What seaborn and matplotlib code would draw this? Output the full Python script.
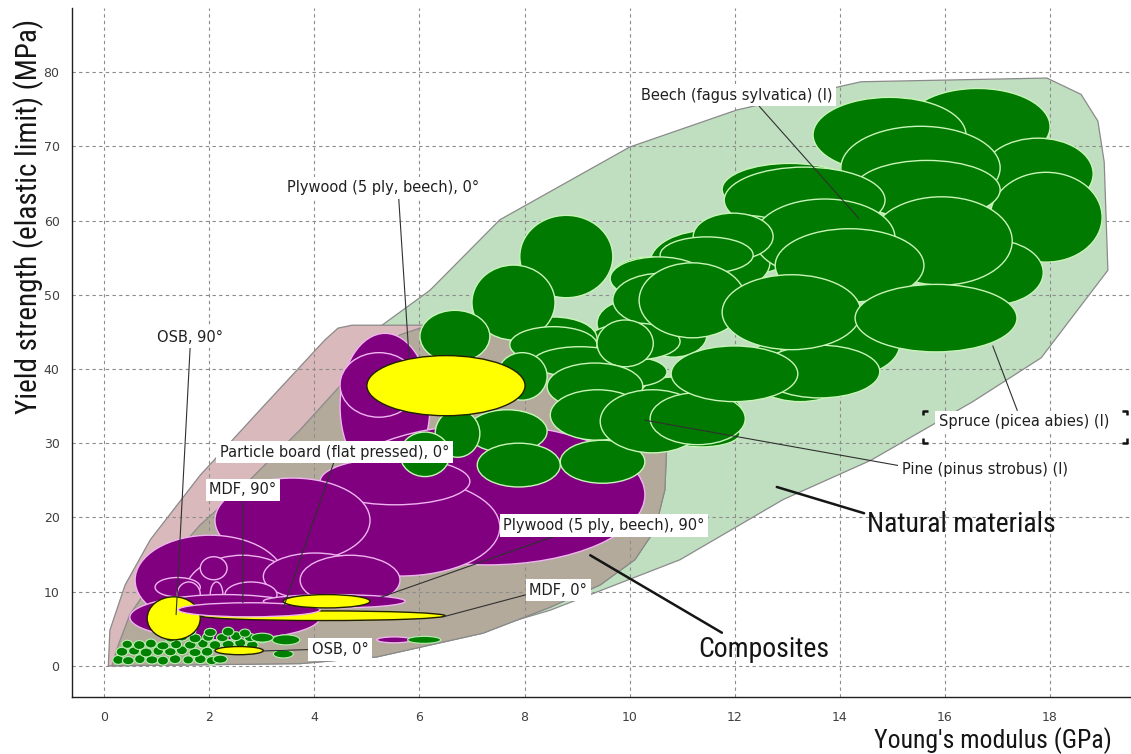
import matplotlib
matplotlib.use("Agg")
import matplotlib.pyplot as plt
import seaborn as sns
import pandas as pd
from matplotlib.patches import Ellipse, Polygon
from matplotlib.ticker import MultipleLocator
from matplotlib import font_manager as fm

# ---------------------------------------------------------------
# Property envelopes (Young's modulus E in GPa, yield strength in MPa)
# ---------------------------------------------------------------
natural_env_E = [0.08, 0.88, 2.78, 5.25, 6.20, 7.53, 10.0, 12.04, 14.4, 17.94, 18.59,
                 18.91, 19.03, 19.10, 17.83, 16.53, 14.59, 12.92, 10.96, 8.49, 6.58, 4.68]
natural_env_S = [0.0, 8.9, 26.4, 45.7, 50.6, 60.1, 69.9, 74.9, 78.7, 79.2, 77.0,
                 73.4, 67.9, 53.3, 41.5, 35.6, 27.7, 22.4, 14.3, 7.5, 3.5, 1.1]

composite_outer_E = [0.08, 0.11, 0.40, 0.88, 1.83, 2.97, 4.20, 4.45, 4.72, 6.01, 7.91, 9.63,
                     10.48, 10.71, 10.67, 10.48, 10.10, 9.44, 8.49, 7.21, 5.19, 3.73]
composite_outer_S = [0.0, 4.8, 10.9, 17.0, 25.7, 34.5, 43.9, 45.5, 45.9, 45.9, 45.5, 43.2,
                     37.2, 30.4, 23.7, 18.3, 14.3, 10.9, 7.9, 4.4, 1.2, 0.3]

composite_inner_E = [0.15, 0.27, 0.49, 1.07, 1.83, 2.68, 3.73, 4.68, 5.63, 6.01, 7.91, 9.63,
                     10.48, 10.71, 10.67, 10.48, 10.10, 9.44, 8.49, 7.21, 5.19, 3.73]
composite_inner_S = [0.0, 2.8, 6.9, 12.9, 19.0, 24.4, 31.8, 39.2, 44.6, 45.5, 45.3, 43.2,
                     37.2, 30.4, 23.7, 18.3, 14.3, 10.9, 7.9, 4.4, 1.2, 0.3]

# ---------------------------------------------------------------
# Timber grades (property ranges), back to front
# ---------------------------------------------------------------
wood_E_lo = [15.24, 13.49, 16.72, 16.86, 14.02, 14.27, 15.91, 14.59, 11.76, 11.80, 11.15,
             10.39, 12.37, 12.77,
             11.21, 10.58, 9.63, 9.38, 12.99, 13.81, 10.16, 11.15, 10.64, 10.20, 9.38, 7.91,
             9.63, 9.68, 9.19, 7.72, 7.91, 7.00, 6.01,
             7.72, 8.16, 9.38, 7.48, 8.43, 8.49, 6.91, 6.30, 5.63, 7.10,
             8.68, 10.18, 9.44, 10.39, 12.20, 12.86, 12.48, 10.79, 11.76, 14.29]
wood_E_hi = [18.00, 16.40, 18.82, 18.99, 17.05, 17.05, 17.87, 17.28, 14.33, 14.86, 13.24,
             12.67, 15.05, 15.60,
             12.73, 12.35, 11.09, 10.71, 14.33, 14.71, 11.40, 12.16, 12.10, 11.47, 10.71, 9.38,
             11.47, 11.53, 10.96, 9.38, 9.68, 8.58, 7.34,
             9.38, 9.95, 10.45, 8.43, 10.25, 10.29, 8.43, 7.15, 6.58, 8.68,
             10.29, 12.21, 11.43, 12.20, 14.29, 15.14, 14.76, 13.20, 14.40, 17.37]
wood_S_lo = [67.5, 66.5, 61.5, 54.4, 61.5, 60.2, 48.6, 51.3, 60.7, 58.3, 52.7,
             50.0, 52.4, 49.0,
             54.7, 52.9, 49.3, 43.0, 36.2, 39.5, 32.7, 30.4, 29.5, 41.6, 37.6, 41.2,
             49.3, 45.7, 41.2, 41.2, 49.6, 43.9, 40.9,
             40.8, 38.9, 40.3, 35.8, 34.5, 30.4, 28.7, 28.1, 25.5, 24.1,
             24.6, 44.2, 28.7, 29.8, 35.6, 38.8, 36.1, 35.6, 42.6, 42.3]
wood_S_hi = [77.8, 76.6, 71.1, 66.5, 72.7, 68.1, 57.4, 63.2, 67.7, 67.2, 60.7,
             58.7, 62.9, 58.9,
             61.0, 57.8, 55.1, 49.3, 43.9, 45.7, 38.9, 36.8, 33.1, 47.5, 41.6, 46.9,
             55.1, 52.9, 46.2, 47.0, 60.7, 54.0, 47.9,
             45.7, 43.0, 46.6, 42.2, 40.8, 37.2, 34.5, 34.5, 31.5, 30.0,
             30.4, 54.3, 37.2, 36.8, 44.6, 47.9, 43.2, 43.1, 52.7, 51.4]

# Low-density natural materials (centre, width, height)
light_E = [0.27, 0.46, 0.68, 0.91, 1.12, 1.35, 1.60, 1.83, 2.05,
           0.34, 0.57, 0.80, 1.03, 1.26, 1.48, 1.73, 1.96,
           0.44, 0.67, 0.89, 1.12, 1.37, 1.64, 1.88, 2.11, 2.36, 2.59, 2.82,
           1.26, 1.48, 1.73, 1.98, 2.25, 2.51, 2.78, 3.01,
           1.37, 1.64, 2.02, 2.36, 2.68,
           3.46, 3.41, 6.09, 2.21, 3.01]
light_S = [0.8, 0.7, 0.9, 0.8, 0.7, 0.9, 0.8, 0.9, 0.7,
           1.9, 2.0, 1.8, 2.0, 1.9, 2.1, 1.8, 1.9,
           2.9, 2.8, 3.0, 2.7, 2.9, 2.8, 3.0, 2.8, 2.9, 3.1, 2.8,
           3.8, 3.9, 3.7, 3.9, 3.8, 4.0, 3.8, 3.7,
           4.6, 4.7, 4.5, 4.6, 4.4,
           3.5, 1.6, 3.5, 0.9, 3.8]
light_W = [0.21, 0.22, 0.20, 0.23, 0.21, 0.22, 0.20, 0.22, 0.21,
           0.22, 0.21, 0.23, 0.20, 0.22, 0.21, 0.23, 0.22,
           0.20, 0.22, 0.21, 0.23, 0.21, 0.22, 0.20, 0.22, 0.23, 0.21, 0.22,
           0.21, 0.22, 0.23, 0.21, 0.22, 0.21, 0.22, 0.23,
           0.22, 0.21, 0.23, 0.22, 0.21,
           0.53, 0.38, 0.63, 0.27, 0.42]
light_H = [1.2, 1.1, 1.2, 1.1, 1.2, 1.2, 1.1, 1.2, 1.1,
           1.2, 1.1, 1.2, 1.2, 1.1, 1.2, 1.1, 1.2,
           1.1, 1.2, 1.2, 1.1, 1.2, 1.1, 1.2, 1.2, 1.1, 1.2, 1.1,
           1.2, 1.1, 1.2, 1.2, 1.1, 1.2, 1.1, 1.2,
           1.1, 1.2, 1.1, 1.2, 1.1,
           1.35, 1.08, 0.94, 1.08, 1.2]

# Wood-based composites (purple)
comp_E_lo = [4.49, 4.30, 3.73, 4.11, 2.11, 4.49, 0.59, 1.54, 3.03, 3.73, 1.83, 0.97, 1.39, 2.02, 2.30, 0.49, 3.03, 5.19]
comp_E_hi = [6.20, 10.29, 7.53, 6.96, 5.06, 5.97, 3.44, 3.73, 5.00, 5.63, 2.34, 1.83, 1.83, 2.26, 3.29, 4.11, 5.73, 5.86]
comp_S_lo = [25.1, 13.6, 12.1, 21.7, 13.9, 33.5, 5.5, 4.8, 8.9, 8.2, 11.6, 9.3, 7.9, 7.9, 7.9, 3.5, 7.8, 3.1]
comp_S_hi = [44.8, 32.5, 25.3, 28.0, 25.3, 42.2, 17.6, 14.9, 15.2, 14.9, 14.7, 11.9, 11.3, 11.3, 11.3, 9.6, 9.6, 3.9]

# Highlighted board products (yellow) and MDF 90 deg (purple, on top)
board_names = ["OSB, 90°", "MDF, 0°", "MDF, 90°", "Plywood (5 ply, beech), 90°",
               "Plywood (5 ply, beech), 0°", "OSB, 0°"]
board_E_lo = [0.82, 1.83, 1.41, 3.41, 5.00, 2.11]
board_E_hi = [1.83, 6.49, 4.11, 5.06, 8.01, 3.03]
board_S_lo = [3.5, 6.1, 6.6, 7.8, 33.7, 1.5]
board_S_hi = [9.3, 7.4, 8.5, 9.6, 41.8, 2.6]
board_fill = ["#ffff00", "#ffff00", "#800080", "#ffff00", "#ffff00", "#ffff00"]
board_edge = ["#202000", "#202000", "#f0b4f0", "#202000", "#202000", "#202000"]

# Callout labels: text, label position, pointed-at point
labels = ["Plywood (5 ply, beech), 0°", "Beech (fagus sylvatica) (l)", "OSB, 90°",
          "Particle board (flat pressed), 0°", "MDF, 90°", "Plywood (5 ply, beech), 90°",
          "MDF, 0°", "OSB, 0°", "Spruce (picea abies) (l)", "Pine (pinus strobus) (l)"]
label_E = [5.31, 12.04, 1.64, 4.39, 2.64, 9.51, 8.64, 4.49, 17.50, 16.76]
label_S = [64.4, 76.9, 44.3, 28.8, 23.7, 18.9, 10.2, 2.2, 32.9, 26.4]
target_E = [5.80, 14.36, 1.37, 3.41, 2.64, 5.25, 6.45, 3.01, 16.91, 10.29]
target_S = [41.8, 60.3, 6.9, 7.8, 8.5, 9.2, 6.6, 2.0, 43.1, 33.1]
label_rel = [(0.58, 0.0), (0.6, 0.0), (0.5, 0.0), (0.5, 0.0), (0.5, 0.0), (0.3, 0.0),
             (0.0, 0.25), (0.0, 0.5), (0.47, 1.0), (0.0, 0.75)]

group_labels = ["Natural materials", "Composites"]
group_E = [16.32, 12.56]
group_S = [19.0, 2.2]
group_target_E = [12.80, 9.25]
group_target_S = [24.1, 14.9]
group_rel = [(0.02, 0.85), (0.22, 1.0)]

# selection frame around the highlighted Spruce label (E range, sigma range)
select_E = [15.58, 19.46]
select_S = [30.0, 34.4]

# ---------------------------------------------------------------
sns.set_theme(style="white")


def pick_font(candidates):
    for name in candidates:
        try:
            fm.findfont(fm.FontProperties(family=name), fallback_to_default=False)
            return name
        except Exception:
            continue
    return "DejaVu Sans"


narrow = pick_font(["Liberation Sans Narrow", "DejaVu Sans Condensed", "Roboto Condensed"])
plt.rcParams["font.family"] = ["DejaVu Sans"]

fig = plt.figure(figsize=(11.31, 7.54), dpi=100)
ax = fig.add_axes([0.0637, 0.0756, 0.9363, 0.9134])
ax.set_xlim(-0.61, 19.54)
ax.set_ylim(-4.2, 88.6)

wood = pd.DataFrame({"E_lo": wood_E_lo, "E_hi": wood_E_hi, "S_lo": wood_S_lo, "S_hi": wood_S_hi})
comp = pd.DataFrame({"E_lo": comp_E_lo, "E_hi": comp_E_hi, "S_lo": comp_S_lo, "S_hi": comp_S_hi})
light = pd.DataFrame({"E": light_E, "S": light_S, "W": light_W, "H": light_H})
boards = pd.DataFrame({"name": board_names, "E_lo": board_E_lo, "E_hi": board_E_hi,
                       "S_lo": board_S_lo, "S_hi": board_S_hi,
                       "fill": board_fill, "edge": board_edge})

# envelopes
for xs, ys, fc in [(natural_env_E, natural_env_S, "#c0dfc0"),
                   (composite_outer_E, composite_outer_S, "#d9b9bc"),
                   (composite_inner_E, composite_inner_S, "#b4aa9b")]:
    ax.add_patch(Polygon(list(zip(xs, ys)), closed=True, facecolor=fc,
                         edgecolor="#8a8a8a", linewidth=0.9, zorder=0.3))


def range_ellipse(row, fc, ec, lw, z):
    ax.add_patch(Ellipse(((row.E_lo + row.E_hi) / 2, (row.S_lo + row.S_hi) / 2),
                         row.E_hi - row.E_lo, row.S_hi - row.S_lo,
                         facecolor=fc, edgecolor=ec, linewidth=lw, zorder=z))


z = 2.0
for row in comp.itertuples():
    range_ellipse(row, "#800080", "#f0b4f0", 1.0, z)
    z += 0.01
for row in light.itertuples():
    ax.add_patch(Ellipse((row.E, row.S), row.W, row.H, facecolor="#008000",
                         edgecolor="#b8f0b0", linewidth=0.8, zorder=z))
    z += 0.01
for row in wood.itertuples():
    range_ellipse(row, "#007a00", "#c8f5b8", 1.0, z)
    z += 0.01
for row in boards.itertuples():
    range_ellipse(row, row.fill, row.edge, 1.0, z)
    z += 0.01

# grid, ticks and spines
ax.xaxis.set_major_locator(MultipleLocator(2))
ax.xaxis.set_minor_locator(MultipleLocator(0.2))
ax.yaxis.set_major_locator(MultipleLocator(10))
ax.yaxis.set_minor_locator(MultipleLocator(2))
ax.set_axisbelow(True)
ax.grid(True, which="major", color="#8c8c8c", linestyle=(0, (3, 3)), linewidth=0.8)
sns.despine(ax=ax, top=True, right=True)
for s in ["left", "bottom"]:
    ax.spines[s].set_color("#202020")
    ax.spines[s].set_linewidth(1.0)
ax.tick_params(which="major", direction="out", length=5, width=0.8, color="#303030",
               labelsize=9, labelcolor="#404040", pad=4)
ax.tick_params(which="minor", direction="out", length=2.5, width=0.6, color="#303030")
ax.tick_params(axis="x", which="major", pad=5)

# callouts
for txt, lx, ly, tx, ty, rp in zip(labels, label_E, label_S, target_E, target_S, label_rel):
    ax.annotate(txt, xy=(tx, ty), xytext=(lx, ly), ha="center", va="center",
                fontsize=10.5, color="#202020", zorder=10,
                bbox=dict(boxstyle="square,pad=0.25", fc="white", ec="none"),
                arrowprops=dict(arrowstyle="-", color="#303030", lw=0.8, relpos=rp,
                                shrinkA=0, shrinkB=0))

# small corner brackets of the selection frame
arm_E, arm_S = 0.09, 0.65
for ce, de in [(select_E[0], 1), (select_E[1], -1)]:
    for cs, ds in [(select_S[0], 1), (select_S[1], -1)]:
        ax.plot([ce + de * arm_E, ce, ce], [cs, cs, cs + ds * arm_S],
                color="#111111", lw=1.8, solid_capstyle="butt", zorder=11)

for txt, lx, ly, tx, ty, rp in zip(group_labels, group_E, group_S, group_target_E,
                                   group_target_S, group_rel):
    ax.annotate(txt, xy=(tx, ty), xytext=(lx, ly), ha="center", va="center",
                fontsize=20, family=narrow, color="#151515", zorder=10,
                arrowprops=dict(arrowstyle="-", color="#151515", lw=1.8, relpos=rp,
                                shrinkA=0, shrinkB=0))

fig.text(0.025, 0.713, "Yield strength (elastic limit) (MPa)", rotation=90,
         ha="center", va="center", fontsize=21, family=narrow, color="#151515")
fig.text(0.878, 0.0175, "Young's modulus (GPa)", ha="center", va="center",
         fontsize=18.5, family=narrow, color="#151515")

fig.savefig("out.png", dpi=100, facecolor="white")
